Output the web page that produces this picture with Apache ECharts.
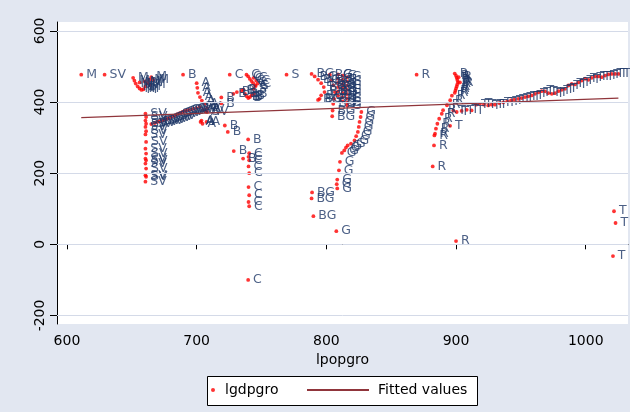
<!DOCTYPE html>
<html><head><meta charset="utf-8">
<script src="https://cdn.jsdelivr.net/npm/echarts@6/dist/echarts.min.js"></script>
<style>html,body{margin:0;padding:0;background:#e2e7f1}#c{width:630px;height:412px}</style>
</head><body><div id="c"></div>
<script>
// tick labels
const xTicks = [600, 700, 800, 900, 1000];
const yTicks = [-200, 0, 200, 400, 600];

// series values per country code (lpopgro, lgdpgro)
const M_x = [611, 651, 652, 653, 654.5, 656, 657.5, 659, 660.5, 662, 663.5, 665, 666.5, 656, 660, 664];
const M_y = [477, 468, 460, 452, 444, 438, 434, 436, 444, 453, 462, 470, 462, 455, 458, 448];

const SV_x = [629, 660.5, 661, 660.5, 661, 660.5, 661, 660.5, 661, 660.5, 661, 660.5, 661, 660.5, 661, 660.5, 661, 660.5,
  665, 667.7, 669.6, 671.5, 673.5, 675.4, 677.3, 679.3, 681.2, 683.1, 685, 687, 689, 690.8, 692.7, 694.7, 697.2, 699.8, 702.4, 705, 708];
const SV_y = [477, 367, 358, 348, 339, 330, 318, 309, 288, 269, 255, 241, 236, 227, 213, 194, 190, 176,
  338, 341, 344, 346, 348, 350, 353, 356, 359, 362, 366, 369, 372, 375, 377, 378, 381, 383, 386, 378, 372];

const A_x = [700, 700.5, 701, 702.5, 704, 706.5, 708, 707, 703.7, 703, 704.5, 707.6];
const A_y = [453, 440, 426, 414, 404, 395, 383, 374, 348, 344, 339, 344];

const B_x = [689.5, 719, 719, 728.3, 731, 734.6, 736, 737.3, 738.6, 739.8, 741.1, 742.4, 744.2, 721.7, 724, 739.7, 728.6, 735.8];
const B_y = [477, 413, 396, 423, 428, 431, 435, 423, 416, 411, 414, 419, 423, 334, 316, 295, 262, 241];

const C_x = [725.5, 738.4, 739.7, 741, 742.3, 743.6, 745, 744, 746, 747, 740.5, 740, 740.5, 740, 740.5, 740, 740.5, 740, 740.5, 739.7];
const C_y = [477, 477, 472, 465, 459, 453, 447, 468, 460, 452, 256, 246, 236, 219, 200, 161, 138, 119, 107, -100];

const S_x = [769.3, 745.5, 744];
const S_y = [477, 445, 437];

const BG_x = [788.6, 791, 793.6, 796, 798, 798.6, 796, 794.8, 793.6, 802.7, 804, 805.3, 806.6, 806, 805.3, 804.8, 804.5, 789, 788.6, 790];
const BG_y = [479, 472, 463, 453, 442, 428, 419, 409, 406, 477, 461, 447, 428, 409, 395, 376, 360, 146, 129, 79];

const G_x = [809, 809, 809, 809, 809, 809, 812.5, 812.5, 812.5, 812.5, 812.5, 812.5, 812.5, 816, 816, 816, 816, 816, 816, 816, 816,
  827, 826.4, 825.6, 825, 824.3, 823, 821.7, 819, 816.4, 815.1, 813.8, 812, 810.5, 809.7, 808.4, 808, 808.4, 807.7];
const G_y = [478, 466, 454, 442, 430, 418, 474, 462, 450, 438, 426, 414, 402, 470, 458, 446, 434, 422, 410, 398, 390,
  372, 358, 344, 330, 316, 304, 292, 283, 278, 272, 264, 257, 232, 208, 182, 169, 157, 37];

const R_x = [869.6, 899, 900, 900.5, 901, 901.5, 901, 900.5, 900, 899.5, 899, 902, 903, 896.8, 895.5, 893, 890, 889, 887, 885.6, 884.5, 883.8, 883.3, 883, 882, 900];
const R_y = [477, 480, 474, 468, 462, 456, 450, 444, 438, 432, 426, 470, 455, 418, 405, 391, 377, 367, 353, 339, 325, 311, 306, 278, 219, 9];

const T_x = [895.4, 897.9, 900.5, 904.3, 908.2, 912.0, 915.4, 918.4, 921.5, 924.8, 927.5, 930, 933.3, 936.4, 939.5, 942.4, 944.9,
  948, 950.6, 953.2, 955.7, 958.3, 960.9, 963.4, 966, 968.6, 971.1, 973.8, 976.3, 978.9, 981.5, 984, 986.6, 989.2, 991.7,
  994.3, 996.9, 999.5, 1002, 1004.6, 1007.2, 1009.7, 1012.3, 1014.9, 1017.4, 1020, 1022.6, 1025.2, 1021.8, 1023, 1021];
const T_y = [333, 376, 372, 375, 378, 376.5, 392.5, 395, 392.5, 390.5, 392.5, 392.5, 397, 399, 402, 404.5, 406.5,
  409, 411, 414, 416, 418.5, 423, 427, 430.5, 430, 425, 423, 425, 430.5, 434.5, 437, 446.5, 451, 449.5,
  455, 460.5, 465.5, 462.5, 468, 472, 472, 470, 474.5, 477.5, 479, 479, 479, 93, 60, -33];

// fitted values (linear fit)
const Fit_x = [611, 1025.2];
const Fit_y = [356, 411];

const groups = [['M', M_x, M_y], ['SV', SV_x, SV_y], ['A', A_x, A_y], ['B', B_x, B_y], ['C', C_x, C_y],
  ['S', S_x, S_y], ['BG', BG_x, BG_y], ['G', G_x, G_y], ['R', R_x, R_y], ['T', T_x, T_y]];
const scatterData = [];
groups.forEach(([code, xs, ys]) => xs.forEach((x, i) => scatterData.push({ name: code, value: [x, ys[i]] })));
const fitData = Fit_x.map((x, i) => [x, Fit_y[i]]);

const FONT = 'DejaVu Sans';
const GRIDC = '#d4dae8';
const chart = echarts.init(document.getElementById('c'), null, { renderer: 'canvas' });
chart.setOption({
  animation: false,
  backgroundColor: '#e2e7f1',
  textStyle: { fontFamily: FONT },
  grid: { left: 57, right: 2, top: 22, bottom: 88, show: true, backgroundColor: '#ffffff', borderWidth: 0 },
  xAxis: {
    type: 'value', min: 592.3, max: 1032.6,
    axisLine: { show: true, lineStyle: { color: '#000', width: 1 } },
    axisTick: { show: true, length: 5, lineStyle: { color: '#000' }, customValues: xTicks },
    axisLabel: { customValues: xTicks, color: '#000', fontSize: 14, margin: 10, fontFamily: FONT, formatter: v => String(v) },
    splitLine: { show: false },
    name: 'lpopgro', nameLocation: 'middle', nameGap: 25,
    nameTextStyle: { color: '#000', fontSize: 14, fontFamily: FONT }
  },
  yAxis: {
    type: 'value', min: -224, max: 625,
    axisLine: { show: true, lineStyle: { color: '#000', width: 1 } },
    axisTick: { show: true, length: 7, lineStyle: { color: '#000' }, customValues: yTicks },
    axisLabel: { customValues: yTicks, rotate: 90, color: '#000', fontSize: 14, margin: 10, fontFamily: FONT, formatter: v => String(v) },
    splitLine: { show: false }
  },
  graphic: [{
    type: 'rect', z: 0,
    shape: { x: 207.5, y: 376.5, width: 270, height: 29 },
    style: { fill: '#ffffff', stroke: '#000', lineWidth: 1 }
  }],
  legend: [
    { data: ['lgdpgro'], left: 211, top: 383, itemWidth: 14, itemHeight: 4, icon: 'circle',
      textStyle: { color: '#000', fontSize: 14, fontFamily: FONT }, padding: 0, z: 5 },
    { data: ['Fitted values'], left: 307, top: 383, itemWidth: 62, itemHeight: 2, icon: 'rect',
      textStyle: { color: '#000', fontSize: 14, fontFamily: FONT, padding: [0, 0, 0, 4] }, padding: 0, z: 5 }
  ],
  series: [
    { type: 'line', name: 'gridlines', data: fitData, symbol: 'none', showSymbol: false,
      lineStyle: { color: GRIDC, width: 0, opacity: 0 }, z: 1, silent: true,
      markLine: { silent: true, symbol: ['none', 'none'], label: { show: false }, animation: false,
        lineStyle: { color: GRIDC, width: 1, type: 'solid', opacity: 1 },
        emphasis: { disabled: true },
        data: yTicks.map(v => ({ yAxis: v })) } },
    { type: 'scatter', name: 'lgdpgro', data: scatterData, symbol: 'circle', symbolSize: 3.8,
      itemStyle: { color: '#ff0000' }, z: 2,
      label: { show: true, position: 'right', distance: 3, formatter: '{b}', color: '#1f3868', fontSize: 12.5, fontFamily: FONT } },
    { type: 'line', name: 'Fitted values', data: fitData, symbol: 'none', showSymbol: false,
      lineStyle: { color: '#90353b', width: 1.3 }, itemStyle: { color: '#90353b' }, z: 3 }
  ]
});
</script></body></html>
